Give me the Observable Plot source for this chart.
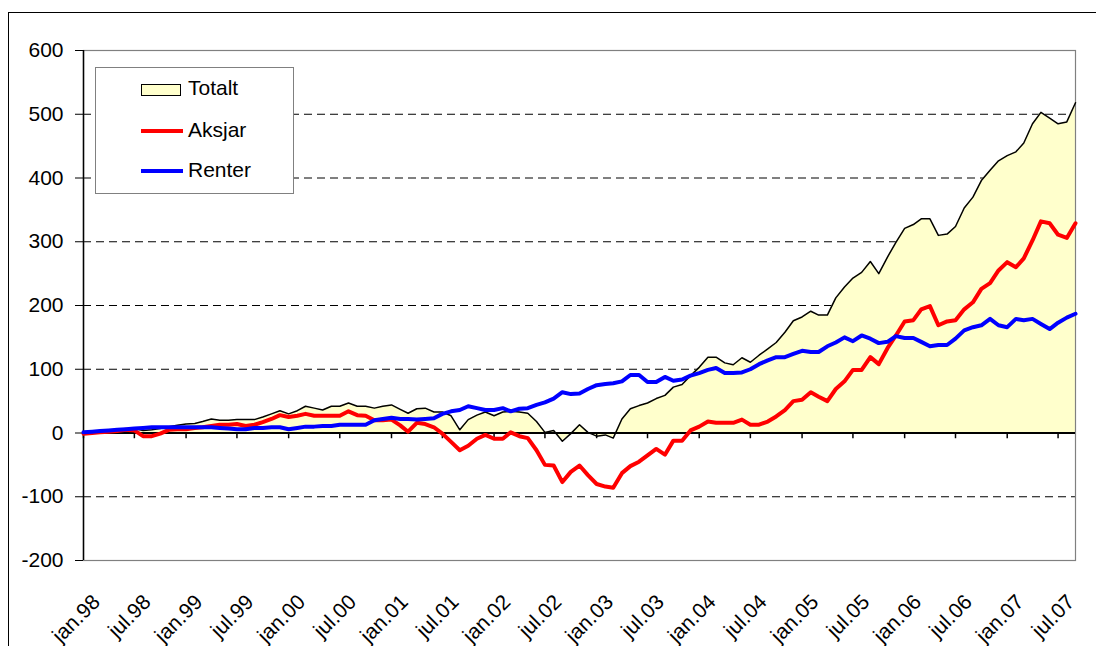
<!DOCTYPE html>
<html><head><meta charset="utf-8">
<script src="https://cdn.jsdelivr.net/npm/d3@7"></script>
<script src="https://cdn.jsdelivr.net/npm/@observablehq/plot@0.6"></script>
<style>
body{margin:0;background:#fff;font-family:"Liberation Sans",Arial,sans-serif;}
#wrap{position:relative;width:1096px;height:646px;overflow:hidden;background:#fff;}
#frame{position:absolute;left:8px;top:12px;width:1200px;height:800px;border:1px solid #000;}
#chart{position:absolute;left:0;top:0;}
#legend{position:absolute;left:95px;top:67px;width:197px;height:125px;border:1px solid #808080;background:#fff;}
.sw{position:absolute;}
.lt{position:absolute;left:92px;font-size:21px;line-height:22px;color:#000;}
</style></head>
<body>
<div id="wrap">
  <div id="frame"></div>
  <div id="chart"></div>
  <div id="legend">
    <div class="sw" style="left:45px;top:16px;width:38px;height:10px;background:#FFFFCC;border:1px solid #000;"></div>
    <div class="lt" style="top:9px;">Totalt</div>
    <div class="sw" style="left:45px;top:61px;width:42px;height:4px;background:#FF0000;"></div>
    <div class="lt" style="top:51px;">Aksjar</div>
    <div class="sw" style="left:45px;top:101px;width:42px;height:4px;background:#0000FF;"></div>
    <div class="lt" style="top:91px;">Renter</div>
  </div>
</div>
<script>
// Series values, monthly jan.98 – sep.07
const totalt = [0,1,2,2,3,5,7,4,5,7,10,12,14,15,18,22,20,20,21,21,
  21,25,30,35,30,35,42,39,36,42,42,47,42,42,39,42,44,37,31,38,
  39,33,33,27,5,21,28,33,27,33,34,33,31,18,1,4,-13,-1,13,1,
  -5,-3,-8,22,38,43,47,54,59,72,76,90,103,119,119,110,107,118,111,122,
  132,142,158,176,182,191,185,185,212,229,243,252,269,250,276,299,321,327,336,336,
  310,312,324,353,370,396,412,427,435,441,455,485,503,494,485,488,518];
const aksjar = [-1,0,1,2,3,5,4,-5,-5,-1,5,6,6,8,9,11,13,13,14,11,
  13,17,22,28,25,27,30,27,27,27,27,34,28,27,20,20,21,12,2,16,
  14,9,-1,-14,-27,-20,-9,-3,-9,-9,1,-5,-8,-27,-50,-51,-77,-61,-51,-66,
  -80,-84,-86,-63,-52,-45,-35,-25,-34,-12,-12,4,10,18,16,16,16,21,13,13,
  18,26,36,50,52,64,57,50,69,81,99,99,119,108,133,153,175,177,194,199,
  169,175,177,194,205,226,235,255,268,260,274,302,332,329,311,306,329];
const renter = [1,2,3,4,5,6,7,8,9,9,9,9,9,9,9,9,8,7,6,6,
  8,8,9,9,6,8,10,10,11,11,13,13,13,13,20,22,24,22,22,21,
  22,23,30,34,36,42,39,36,36,39,34,38,39,44,48,54,64,61,62,69,
  75,77,78,81,91,91,80,80,88,82,84,90,94,99,102,94,94,95,100,108,
  114,119,119,124,129,127,127,136,142,150,144,153,148,141,143,152,149,149,143,136,
  138,138,148,161,166,169,179,169,166,179,177,179,171,163,173,181,187];
const tickLabels = ["jan.98","jul.98","jan.99","jul.99","jan.00","jul.00","jan.01","jul.01",
  "jan.02","jul.02","jan.03","jul.03","jan.04","jul.04","jan.05","jul.05","jan.06","jul.06","jan.07","jul.07"];
const yTicks = [-200,-100,0,100,200,300,400,500,600];
const gridVals = [-100,100,200,300,400,500];

const start = new Date(Date.UTC(1998,0,1));
const months = d3.utcMonth.range(start, new Date(Date.UTC(2007,9,1)));
const tickDates = d3.utcMonth.every(6).range(start, new Date(Date.UTC(2007,9,1)));
const data = months.map((date,i)=>({date, totalt: totalt[i], aksjar: aksjar[i], renter: renter[i]}));

const chart = Plot.plot({
  width:1096, height:646,
  marginLeft:83, marginRight:21, marginTop:50, marginBottom:86,
  x:{type:"utc", domain:[months[0], months[months.length-1]]},
  y:{domain:[-200,600]},
  style:{fontFamily:'"Liberation Sans", Arial, sans-serif', fontSize:"21px", color:"#000", background:"transparent", overflow:"visible"},
  marks:[
    Plot.ruleY(gridVals, {stroke:"#000", strokeDasharray:"8,5", strokeWidth:1}),
    Plot.areaY(data, {x:"date", y:"totalt", fill:"#FFFFCC"}),
    Plot.frame({stroke:"#808080", strokeWidth:1.2}),
    Plot.ruleX([months[0]], {stroke:"#000", strokeWidth:1.5}),
    Plot.axisY({ticks:yTicks, tickFormat:d=>String(d), tickSize:8, tickPadding:12, label:null, fontSize:21, stroke:"#000"}),
    Plot.axisX({ticks:tickDates, tickFormat:d=>tickLabels[tickDates.findIndex(t=>+t===+d)], tickSize:0, tickPadding:38, tickRotate:-45, dx:13, label:null, fontSize:21}),
    Plot.ruleY([0], {stroke:"#000", strokeWidth:2}),
    Plot.ruleX(tickDates, {x:d=>d, y1:0, y2:-9, stroke:"#000", strokeWidth:1.5}),
    Plot.line(data, {x:"date", y:"totalt", stroke:"#000", strokeWidth:1.5}),
    Plot.line(data, {x:"date", y:"aksjar", stroke:"#FF0000", strokeWidth:4}),
    Plot.line(data, {x:"date", y:"renter", stroke:"#0000FF", strokeWidth:4})
  ]
});
document.getElementById("chart").appendChild(chart);
</script>
</body></html>
